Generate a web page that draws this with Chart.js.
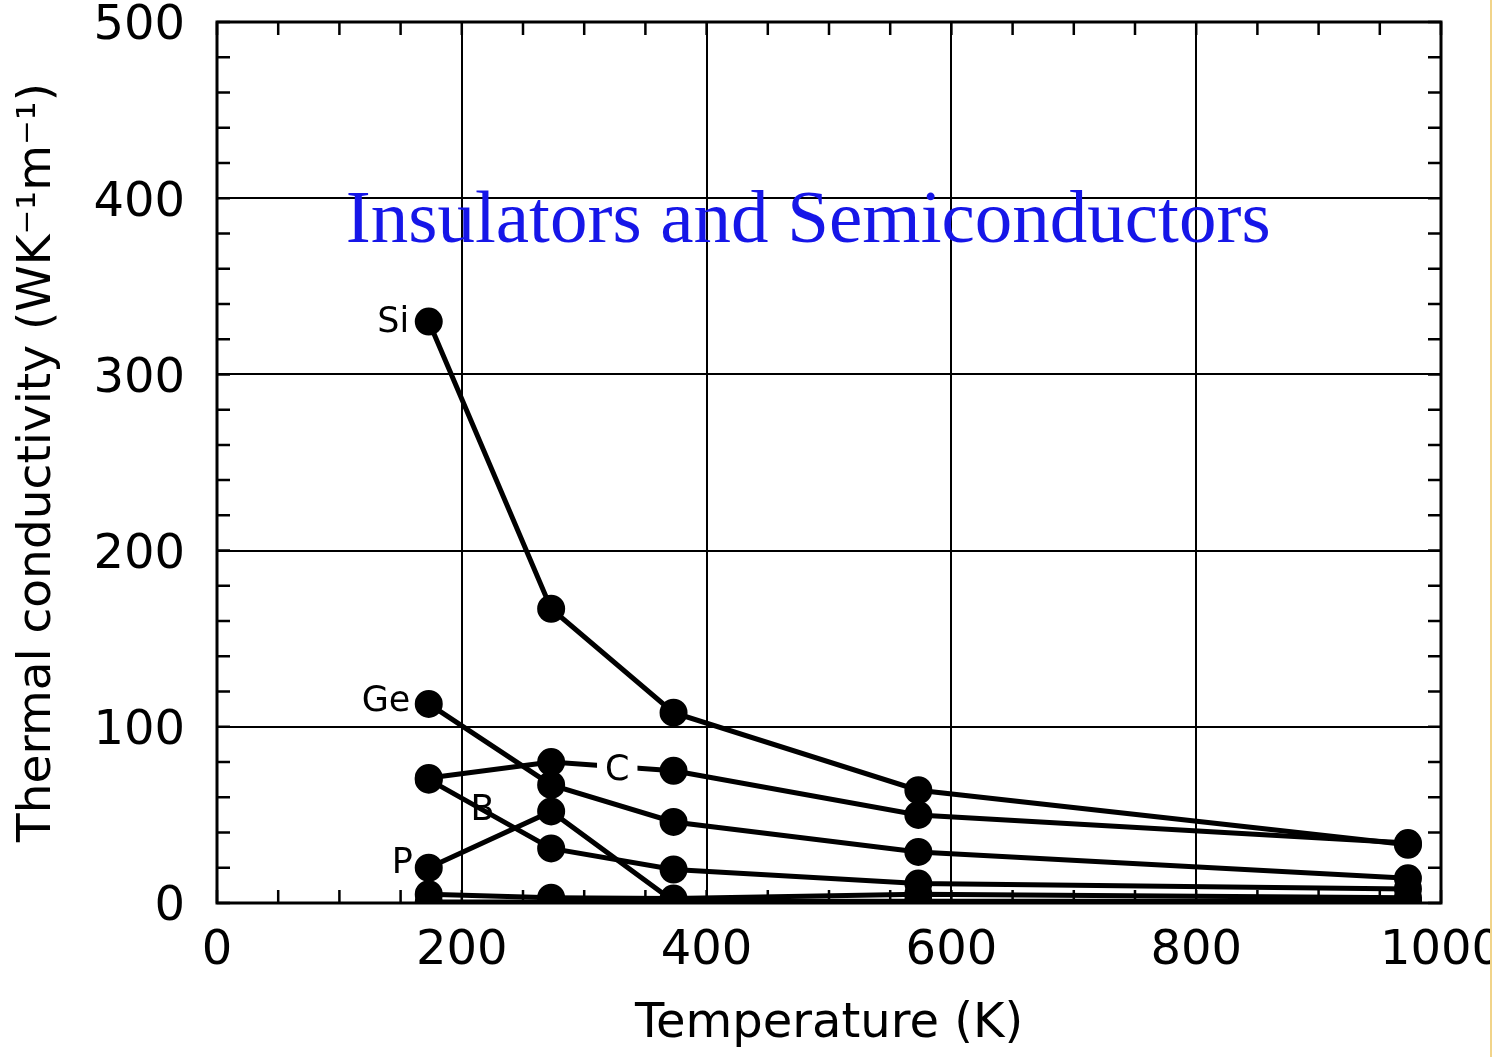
<!DOCTYPE html>
<html>
<head>
<meta charset="utf-8">
<script src="https://cdn.jsdelivr.net/npm/chart.js@4/dist/chart.umd.min.js"></script>
<style>
  html, body { margin: 0; padding: 0; background: #fff; }
  #wrap { position: relative; width: 1490px; height: 1057px; border-right: 2px solid #f1d48a; }
</style>
</head>
<body>
<div id="wrap"><canvas id="myChart"></canvas></div>
<script>
// temperatures (K) where the points sit
const temps = [173, 273, 373, 573, 973];

// thermal conductivity (W K^-1 m^-1)
const si = [330, 167, 108, 64, 33];
const carbon = [71, 80, 75, 50, 34];
const ge = [113, 67, 46, 29, 14];
const boron = [70, 31, 19, 11, 8];
const phos = [20, 52, 1, 1, 1];
const other1 = [5, 3, 2.5, 5, 3];
const other2 = [0.5, 0.5, 0.5, 0.5, 0.5];

const xTicks = [0, 200, 400, 600, 800, 1000];
const yTicks = [0, 100, 200, 300, 400, 500];

// element labels: [text, x, y, align]
const labels = [
  ['Si', 157, 329, 'right'],
  ['Ge', 158, 114, 'right'],
  ['C', 327, 75, 'center'],
  ['B', 217, 52, 'center'],
  ['P', 160, 22, 'right']
];

const FONT = 'DejaVu Sans';

const series = [si, carbon, ge, boron, phos, other1, other2];
const datasets = series.map(vals => ({
  data: vals.map((v, i) => ({ x: temps[i], y: v })),
  showLine: true,
  borderColor: '#000',
  backgroundColor: '#000',
  borderWidth: 5,
  pointRadius: 11.5,
  pointHoverRadius: 11.5,
  tension: 0
}));

const extras = {
  id: 'extras',
  afterDatasetsDraw(chart) {
    const ctx = chart.ctx;
    const a = chart.chartArea;
    const xs = chart.scales.x, ys = chart.scales.y;
    ctx.save();
    // frame
    ctx.strokeStyle = '#000';
    ctx.lineWidth = 3;
    ctx.strokeRect(a.left, a.top, a.right - a.left, a.bottom - a.top);
    // inward ticks on all four sides
    ctx.lineWidth = 2.5;
    ctx.beginPath();
    for (let v = 0; v <= 1000; v += 50) {
      const px = xs.getPixelForValue(v);
      ctx.moveTo(px, a.bottom); ctx.lineTo(px, a.bottom - 13);
      ctx.moveTo(px, a.top); ctx.lineTo(px, a.top + 13);
    }
    for (let v = 0; v <= 500; v += 20) {
      const py = ys.getPixelForValue(v);
      ctx.moveTo(a.left, py); ctx.lineTo(a.left + 13, py);
      ctx.moveTo(a.right, py); ctx.lineTo(a.right - 13, py);
    }
    ctx.stroke();

    // element labels
    ctx.font = '35px "' + FONT + '"';
    ctx.textBaseline = 'middle';
    labels.forEach(([t, x, y, al]) => {
      const px = xs.getPixelForValue(x), py = ys.getPixelForValue(y);
      ctx.textAlign = al;
      if (t === 'C') {
        const w = ctx.measureText(t).width;
        ctx.fillStyle = '#fff';
        ctx.fillRect(px - w / 2 - 8, py - 14, w + 16, 28);
      }
      ctx.fillStyle = '#000';
      ctx.fillText(t, px, py);
    });

    // blue caption
    ctx.font = '75px "Liberation Serif"';
    ctx.fillStyle = '#1616e8';
    ctx.textAlign = 'center';
    ctx.textBaseline = 'alphabetic';
    ctx.fillText('Insulators and Semiconductors', xs.getPixelForValue(483), ys.getPixelForValue(375));
    ctx.restore();
  }
};

const ctx = document.getElementById('myChart').getContext('2d');
const myChart = new Chart(ctx, {
  type: 'scatter',
  data: { datasets: datasets },
  options: {
    responsive: true,
    maintainAspectRatio: false,
    animation: false,
    layout: { padding: { top: 22, right: 49, left: 0, bottom: 0 } },
    plugins: { legend: { display: false }, tooltip: { enabled: false } },
    scales: {
      x: {
        type: 'linear', min: 0, max: 1000,
        afterBuildTicks: s => { s.ticks = xTicks.map(v => ({ value: v })); },
        afterFit: s => { s.height = 154; s.paddingLeft = 0; s.paddingRight = 0; },
        grid: { color: '#000', lineWidth: 2, drawTicks: false },
        border: { display: false },
        ticks: { color: '#000', font: { family: FONT, size: 48 }, padding: 20, maxRotation: 0, autoSkip: false, callback: v => String(v) },
        title: { display: true, text: 'Temperature (K)', color: '#000', font: { family: FONT, size: 48 }, padding: { top: 0, bottom: 4 } }
      },
      y: {
        type: 'linear', min: 0, max: 500,
        afterBuildTicks: s => { s.ticks = yTicks.map(v => ({ value: v })); },
        afterFit: s => { s.width = 217; s.paddingTop = 0; s.paddingBottom = 0; },
        grid: { color: '#000', lineWidth: 2, drawTicks: false },
        border: { display: false },
        ticks: { color: '#000', font: { family: FONT, size: 48 }, padding: 32, autoSkip: false, labelOffset: 5, callback: v => String(v) },
        title: { display: true, text: 'Thermal conductivity (WK\u207B\u00B9m\u207B\u00B9)', color: '#000', font: { family: FONT, size: 47 }, padding: { top: 10, bottom: 0 } }
      }
    }
  },
  plugins: [extras]
});
</script>
</body>
</html>
